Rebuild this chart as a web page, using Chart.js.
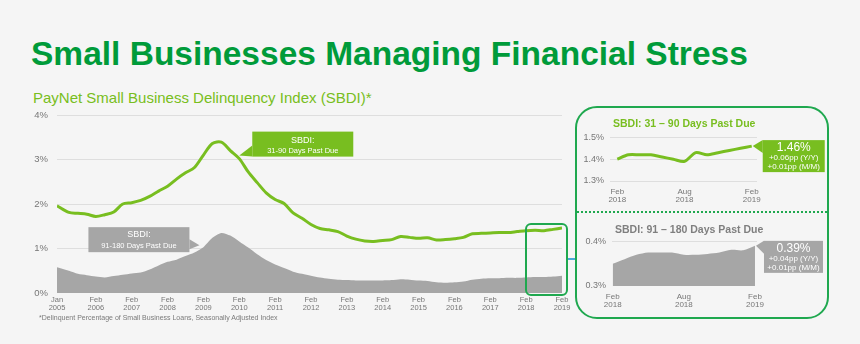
<!DOCTYPE html>
<html>
<head>
<meta charset="utf-8">
<script src="https://cdn.jsdelivr.net/npm/chart.js@4.4.1/dist/chart.umd.min.js"></script>
<style>
  body { margin: 0; width: 860px; height: 344px; overflow: hidden; position: relative;
         background: #f5f5f5; font-family: "Liberation Sans", Arial, sans-serif; }
  .abs { position: absolute; white-space: nowrap; }
  #title { left: 31px; top: 35px; font-size: 33.5px; font-weight: bold; color: #009b3a; }
  #sub { left: 33px; top: 89px; font-size: 15px; color: #78be20; }
  #note { left: 39px; top: 314px; font-size: 7px; color: #7a7a7a; }
  #frame { left: 575px; top: 106px; width: 250px; height: 209px; border: 2px solid #1fa84f; border-radius: 22px; }
  #divider { left: 577px; top: 211px; width: 250px; border-top: 2px dotted #1fa84f; }
  #zoomBox { left: 525px; top: 223px; width: 39px; height: 69px; border: 2px solid #1fa84f; border-radius: 6px; }
  #link { left: 568px; top: 258px; width: 7px; height: 2px; background: #4aa8d8; }
  .inTitle { font-size: 10.5px; font-weight: bold; z-index: 2; }
  #t31 { left: 613px; top: 117px; color: #78be20; }
  #t91 { left: 615px; top: 223px; color: #7f7f7f; }
  canvas { position: absolute; }
</style>
</head>
<body>
<div id="title" class="abs">Small Businesses Managing Financial Stress</div>
<div id="sub" class="abs">PayNet Small Business Delinquency Index (SBDI)*</div>
<canvas id="mainChart" width="580" height="225" style="left:0;top:100px"></canvas>
<div id="note" class="abs">*Delinquent Percentage of Small Business Loans, Seasonally Adjusted Index</div>
<div id="zoomBox" class="abs"></div>
<div id="link" class="abs"></div>
<div id="frame" class="abs"></div>
<div id="divider" class="abs"></div>
<div id="t31" class="abs inTitle">SBDI: 31 – 90 Days Past Due</div>
<div id="t91" class="abs inTitle">SBDI: 91 – 180 Days Past Due</div>
<canvas id="inset31" width="252" height="82" style="left:577px;top:126px"></canvas>
<canvas id="inset91" width="252" height="82" style="left:577px;top:230px"></canvas>

<script>
// months since Jan 2005
const months = [0, 4, 7, 10, 13, 16, 19, 22, 25, 28, 31, 34, 37, 40, 43, 46, 49, 52, 55, 58,
  61, 64, 67, 70, 73, 76, 79, 82, 85, 88, 91, 94, 97, 100, 103, 106, 109, 112, 115, 118,
  121, 124, 127, 130, 133, 136, 139, 142, 145, 148, 151, 154, 157, 160, 163, 166, 169];

// SBDI 31-90 days past due, %
const sbdi31to90 = [1.96, 1.81, 1.79, 1.77, 1.72, 1.76, 1.82, 2.00, 2.03, 2.08, 2.17, 2.29, 2.40, 2.56,
  2.70, 2.82, 3.10, 3.36, 3.39, 3.20, 3.02, 2.72, 2.48, 2.25, 2.10, 2.01, 1.80, 1.68, 1.54, 1.45,
  1.42, 1.38, 1.28, 1.21, 1.17, 1.16, 1.18, 1.20, 1.27, 1.25, 1.23, 1.24, 1.19, 1.20, 1.22, 1.25,
  1.33, 1.34, 1.35, 1.36, 1.36, 1.38, 1.40, 1.41, 1.40, 1.43, 1.46];

// SBDI 91-180 days past due, %
const sbdi91to180 = [0.58, 0.50, 0.43, 0.40, 0.37, 0.35, 0.38, 0.41, 0.44, 0.46, 0.53, 0.62, 0.70, 0.75,
  0.83, 0.91, 1.03, 1.24, 1.35, 1.29, 1.16, 1.02, 0.87, 0.74, 0.64, 0.56, 0.48, 0.43, 0.39, 0.35,
  0.32, 0.30, 0.29, 0.28, 0.28, 0.28, 0.28, 0.29, 0.31, 0.30, 0.28, 0.27, 0.24, 0.23, 0.24, 0.26,
  0.30, 0.32, 0.33, 0.33, 0.34, 0.34, 0.35, 0.36, 0.36, 0.37, 0.39];

const tickMonths = [0, 13, 25, 37, 49, 61, 73, 85, 97, 109, 121, 133, 145, 157, 169];
const tickLabels = ['Jan 2005', 'Feb 2006', 'Feb 2007', 'Feb 2008', 'Feb 2009', 'Feb 2010', 'Feb 2011',
  'Feb 2012', 'Feb 2013', 'Feb 2014', 'Feb 2015', 'Feb 2016', 'Feb 2017', 'Feb 2018', 'Feb 2019'];
const yTicks = [0, 1, 2, 3, 4];

// last 13 months, shown in the side panel
const insetMonths = ['Feb 2018', 'Mar 2018', 'Apr 2018', 'May 2018', 'Jun 2018', 'Jul 2018', 'Aug 2018',
  'Sep 2018', 'Oct 2018', 'Nov 2018', 'Dec 2018', 'Jan 2019', 'Feb 2019'];
const inset31to90 = [1.40, 1.42, 1.42, 1.42, 1.41, 1.40, 1.39, 1.43, 1.42, 1.43, 1.44, 1.45, 1.46];
const inset91to180 = [0.35, 0.36, 0.37, 0.375, 0.375, 0.375, 0.37, 0.37, 0.372, 0.375, 0.381, 0.38, 0.39];
const insetTicks = [0, 6, 12];

const GREEN = '#78be20';
const GREY = '#a6a6a6';
const FONT = '"Liberation Sans", Arial, sans-serif';

// boxed labels with a pointer to a data point
function calloutPlugin(items) {
  return {
    id: 'callouts',
    afterDatasetsDraw(chart) {
      const ctx = chart.ctx;
      items.forEach(c => {
        const pt = chart.getDatasetMeta(c.ds).data[c.i];
        const bx = pt.x + c.ox, by = pt.y + c.oy;
        const ex = c.side === 'left' ? bx : bx + c.w;
        ctx.save();
        ctx.fillStyle = c.color;
        ctx.fillRect(bx, by, c.w, c.h);
        ctx.beginPath();
        ctx.moveTo(pt.x + c.tx, pt.y + c.ty);
        ctx.lineTo(ex, by + c.base[0]);
        ctx.lineTo(ex, by + c.base[1]);
        ctx.closePath();
        ctx.fill();
        ctx.fillStyle = '#fff';
        ctx.textAlign = 'center';
        ctx.textBaseline = 'middle';
        c.lines.forEach(l => {
          ctx.font = l.font + ' ' + FONT;
          ctx.fillText(l.text, bx + c.w / 2, by + l.y);
        });
        ctx.restore();
      });
    }
  };
}

const pts = (xs, ys) => ys.map((v, i) => ({ x: xs[i], y: v }));
const pp = v => (v >= 0 ? '+' : '') + v.toFixed(2) + 'pp';

new Chart(document.getElementById('mainChart'), {
  type: 'line',
  data: {
    datasets: [
      { label: 'SBDI 31-90', data: pts(months, sbdi31to90), borderColor: GREEN, borderWidth: 3,
        pointRadius: 0, tension: 0.3, fill: false },
      { label: 'SBDI 91-180', data: pts(months, sbdi91to180), borderWidth: 0, backgroundColor: GREY,
        pointRadius: 0, tension: 0.25, fill: 'origin' }
    ]
  },
  options: {
    responsive: false, animation: false,
    layout: { padding: { top: 15, right: 18, left: 0, bottom: 0 } },
    plugins: { legend: { display: false }, tooltip: { enabled: false } },
    scales: {
      x: {
        type: 'linear', min: 0, max: 169,
        afterBuildTicks: s => { s.ticks = tickMonths.map(v => ({ value: v })); },
        afterFit: s => { s.height = 32; },
        grid: { display: false, drawTicks: false, tickLength: 0 }, border: { display: false },
        ticks: { autoSkip: false, maxRotation: 0, padding: 3, color: '#777',
          font: { family: FONT, size: 7.5, lineHeight: 1.1 },
          callback: (v, i) => tickLabels[i].split(' ') }
      },
      y: {
        min: 0, max: 4,
        afterBuildTicks: s => { s.ticks = yTicks.map(v => ({ value: v })); },
        afterFit: s => { s.width = 57; },
        border: { display: false },
        grid: { drawTicks: false, color: c => c.tick.value === 0 ? 'transparent' : '#dedede' },
        ticks: { padding: 9, color: '#777', font: { family: FONT, size: 9.5 }, callback: v => v + '%' }
      }
    }
  },
  plugins: [calloutPlugin([
    { ds: 0, i: 20, ox: 13, oy: -27, w: 101, h: 25, tx: 0, ty: -3, side: 'left', base: [14, 25], color: GREEN,
      lines: [{ text: 'SBDI:', font: '9px', y: 8.5 }, { text: '31-90 Days Past Due', font: '7.5px', y: 19 }] },
    { ds: 1, i: 16, ox: -115, oy: -20, w: 101, h: 25, tx: -4, ty: -2, side: 'right', base: [12, 22], color: GREY,
      lines: [{ text: 'SBDI:', font: '9px', y: 7.5 }, { text: '91-180 Days Past Due', font: '7.5px', y: 18.5 }] }
  ])]
});

function insetChart(id, values, opts) {
  const n = values.length - 1;
  const last = values[n];
  new Chart(document.getElementById(id), {
    type: 'line',
    data: {
      datasets: [{ data: pts(insetMonths.map((m, i) => i), values), pointRadius: 0,
        tension: 0.3, ...opts.style }]
    },
    options: {
      responsive: false, animation: false,
      layout: { padding: { top: opts.top, right: 72, left: 0, bottom: 0 } },
      plugins: { legend: { display: false }, tooltip: { enabled: false } },
      scales: {
        x: {
          type: 'linear', min: opts.xMin, max: opts.xMax,
          afterBuildTicks: s => { s.ticks = insetTicks.map(v => ({ value: v })); },
          afterFit: s => { s.height = opts.xHeight; },
          grid: { display: false, drawTicks: false, tickLength: 0 }, border: { display: false },
          ticks: { autoSkip: false, maxRotation: 0, padding: 6, color: '#777',
            font: { family: FONT, size: 8, lineHeight: 1.1 },
            callback: v => insetMonths[v].split(' ') }
        },
        y: {
          min: opts.yTicks[0], max: opts.yTicks[opts.yTicks.length - 1],
          afterBuildTicks: s => { s.ticks = opts.yTicks.map(v => ({ value: v })); },
          afterFit: s => { s.width = opts.yWidth; },
          border: { display: false },
          grid: { drawTicks: false, color: c => opts.gridAt.includes(c.tick.value) ? '#dedede' : 'transparent' },
          ticks: { padding: 6, color: '#777', font: { family: FONT, size: 9 }, callback: v => v.toFixed(1) + '%' }
        }
      }
    },
    plugins: [calloutPlugin([
      { ds: 0, i: n, ox: opts.ox, oy: opts.oy, w: opts.w, h: 32, tx: 1, ty: 0, side: 'left', base: [0, 13],
        color: opts.boxColor,
        lines: [
          { text: last.toFixed(2) + '%', font: '12px', y: 7.5 },
          { text: pp(last - values[0]) + ' (Y/Y)', font: '8px', y: 17.5 },
          { text: pp(last - values[n - 1]) + ' (M/M)', font: '8px', y: 26.5 }
        ] }
    ])]
  });
}

insetChart('inset31', inset31to90, {
  style: { borderColor: GREEN, borderWidth: 3, fill: false },
  top: 7, xHeight: 27, yWidth: 33, xMin: -0.65, xMax: 12.47,
  yTicks: [1.3, 1.4, 1.5], gridAt: [1.3, 1.4, 1.5],
  ox: 11, oy: -6, w: 62, boxColor: GREEN
});

insetChart('inset91', inset91to180, {
  style: { borderWidth: 0, backgroundColor: GREY, fill: 'start' },
  top: 9, xHeight: 26, yWidth: 35, xMin: -0.06, xMax: 12.17,
  yTicks: [0.3, 0.4], gridAt: [0.4],
  ox: 9, oy: -5, w: 59, boxColor: GREY
});
</script>
</body>
</html>
